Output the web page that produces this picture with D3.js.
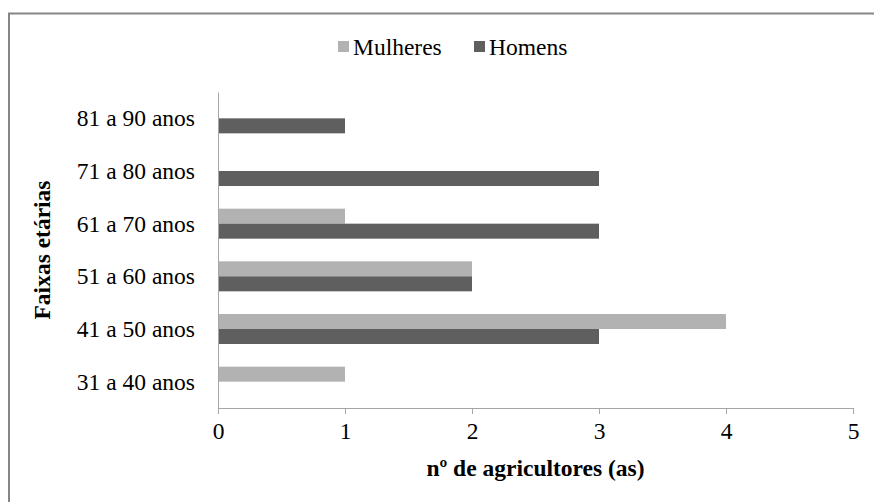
<!DOCTYPE html>
<html><head><meta charset="utf-8">
<script src="https://cdn.jsdelivr.net/npm/d3@7"></script>
<style>body{margin:0;background:#fff}svg{display:block}text{font-family:"Liberation Serif","Times New Roman",Times,"DejaVu Serif",serif !important;fill:#000}</style>
</head><body>
<svg id="c" width="874" height="502"></svg>
<script>
const categories = ["31 a 40 anos","41 a 50 anos","51 a 60 anos","61 a 70 anos","71 a 80 anos","81 a 90 anos"];
const seriesNames = ["Mulheres","Homens"];
const mulheres = [1,4,2,1,0,0];
const homens = [0,3,2,3,3,1];
const xTicks = [0,1,2,3,4,5];
const colors = ["#b2b2b2","#5f5f5f"];

const svg = d3.select("#c");
const fs = 23.5;
const ff = "'Liberation Serif','Times New Roman',Times,serif";
svg.append("rect").attr("x",9).attr("y",13.5).attr("width",900).attr("height",600)
  .attr("fill","none").attr("stroke","#868686").attr("stroke-width",2);

const x = d3.scaleLinear().domain([0,5]).range([218,853]);
const y = d3.scaleBand().domain(categories.slice().reverse()).range([92,408]);
const ys = d3.scaleBand().domain(seriesNames).range([0,y.bandwidth()]).paddingOuter(0.755);

const data = seriesNames.map((s,i)=>({name:s,color:colors[i],values:(i===0?mulheres:homens)}));

data.forEach(s=>{
  svg.append("g").selectAll("rect").data(categories.map((c,j)=>({c,v:s.values[j]})).filter(d=>d.v>0))
    .join("rect")
    .attr("x",x(0)).attr("y",d=>y(d.c)+ys(s.name))
    .attr("width",d=>x(d.v)-x(0)).attr("height",ys.bandwidth())
    .attr("fill",s.color);
});

const xa = svg.append("g").attr("transform","translate(0,408)")
  .call(d3.axisBottom(x).tickValues(xTicks).tickSize(6).tickSizeOuter(0).tickPadding(8).tickFormat(d3.format("d")));
xa.attr("font-family",ff);
xa.select(".domain").attr("stroke","#a6a6a6");
xa.selectAll(".tick line").attr("stroke","#a6a6a6");
xa.selectAll("text").style("font-family",ff).attr("font-size",fs).attr("fill","#000");

const ya = svg.append("g").attr("transform","translate(218,0)")
  .call(d3.axisLeft(y).tickSize(0).tickPadding(23));
ya.attr("font-family",ff);
ya.select(".domain").attr("stroke","#a6a6a6");
ya.selectAll("text").style("font-family",ff).attr("font-size",fs).attr("fill","#000").attr("dy","0.34em");

svg.append("text").attr("x",535.5).attr("y",476).attr("text-anchor","middle").style("font-family",ff)
  .attr("font-size",fs).attr("font-weight","bold").text("nº de agricultores (as)");
svg.append("text").attr("transform","translate(50,250) rotate(-90)").attr("text-anchor","middle").style("font-family",ff)
  .attr("font-size",fs).attr("font-weight","bold").text("Faixas etárias");

const leg = svg.append("g");
const legX = [338,474];
data.forEach((s,i)=>{
  leg.append("rect").attr("x",legX[i]).attr("y",41).attr("width",11).attr("height",11).attr("fill",s.color);
  leg.append("text").attr("x",legX[i]+15).attr("y",55).style("font-family",ff).attr("font-size",fs).text(s.name);
});
</script>
</body></html>
